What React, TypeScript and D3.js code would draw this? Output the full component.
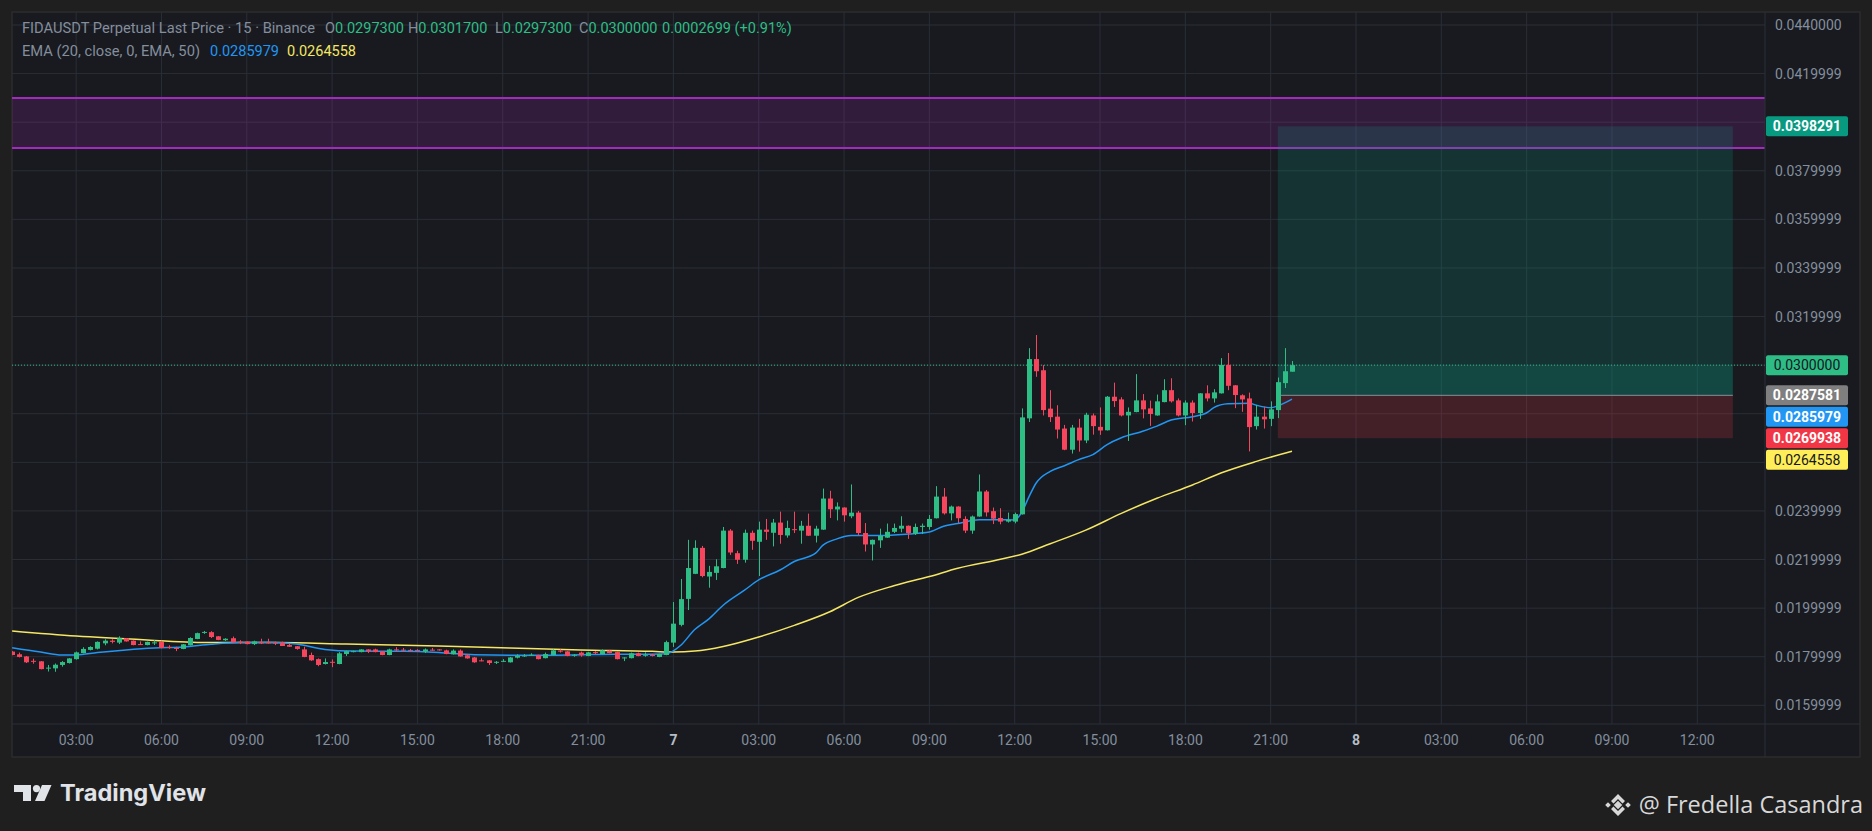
import React from "react";
import * as d3 from "d3";

// ---------- DATA ----------
const opens = [0.01821,0.01810,0.01801,0.01783,0.01781,0.01752,0.01752,0.01766,0.01774,0.01790,
0.01815,0.01828,0.01833,0.01855,0.01866,0.01858,0.01876,0.01866,0.01852,0.01848,
0.01857,0.01861,0.01840,0.01836,0.01832,0.01847,0.01873,0.01899,0.01901,0.01884,
0.01868,0.01876,0.01862,0.01862,0.01852,0.01859,0.01859,0.01858,0.01858,0.01848,
0.01843,0.01830,0.01807,0.01790,0.01770,0.01779,0.01770,0.01811,0.01819,0.01819,
0.01830,0.01830,0.01822,0.01807,0.01830,0.01829,0.01828,0.01828,0.01821,0.01829,
0.01830,0.01826,0.01810,0.01825,0.01806,0.01797,0.01785,0.01785,0.01777,0.01781,
0.01777,0.01796,0.01803,0.01805,0.01806,0.01794,0.01807,0.01825,0.01822,0.01806,
0.01817,0.01803,0.01819,0.01811,0.01825,0.01819,0.01794,0.01794,0.01814,0.01806,
0.01807,0.01799,0.01807,0.01858,0.01931,0.02038,0.02141,0.02248,0.02130,0.02145,
0.02165,0.02319,0.02226,0.02199,0.02310,0.02273,0.02323,0.02310,0.02352,0.02299,
0.02325,0.02319,0.02339,0.02298,0.02323,0.02451,0.02406,0.02414,0.02378,0.02393,
0.02309,0.02262,0.02279,0.02290,0.02314,0.02327,0.02339,0.02306,0.02334,0.02334,
0.02370,0.02459,0.02390,0.02418,0.02367,0.02319,0.02377,0.02480,0.02399,0.02371,
0.02356,0.02356,0.02386,0.02781,0.03025,0.02979,0.02821,0.02788,0.02739,0.02652,
0.02743,0.02690,0.02793,0.02746,0.02732,0.02870,0.02859,0.02793,0.02807,0.02855,
0.02822,0.02793,0.02848,0.02897,0.02855,0.02793,0.02846,0.02803,0.02884,0.02863,
0.02884,0.03001,0.02917,0.02876,0.02863,0.02749,0.02788,0.02779,0.02815,0.02926,
0.02973];

const highs = [0.01823,0.01817,0.01803,0.01792,0.01782,0.01766,0.01772,0.01782,0.01794,0.01821,
0.01839,0.01843,0.01863,0.01872,0.01872,0.01884,0.01877,0.01867,0.01863,0.01862,
0.01868,0.01866,0.01847,0.01841,0.01852,0.01880,0.01899,0.01906,0.01905,0.01885,
0.01876,0.01883,0.01868,0.01863,0.01866,0.01874,0.01874,0.01862,0.01862,0.01854,
0.01844,0.01841,0.01817,0.01793,0.01793,0.01789,0.01819,0.01825,0.01825,0.01831,
0.01831,0.01833,0.01823,0.01833,0.01839,0.01836,0.01832,0.01831,0.01834,0.01836,
0.01831,0.01829,0.01830,0.01830,0.01811,0.01799,0.01793,0.01786,0.01782,0.01790,
0.01799,0.01810,0.01811,0.01814,0.01808,0.01817,0.01830,0.01830,0.01823,0.01811,
0.01821,0.01820,0.01823,0.01830,0.01826,0.01821,0.01798,0.01817,0.01817,0.01818,
0.01812,0.01812,0.01866,0.02025,0.02120,0.02281,0.02279,0.02256,0.02174,0.02201,
0.02334,0.02325,0.02236,0.02323,0.02319,0.02356,0.02367,0.02367,0.02397,0.02360,
0.02397,0.02359,0.02389,0.02339,0.02492,0.02483,0.02435,0.02415,0.02509,0.02400,
0.02350,0.02282,0.02327,0.02348,0.02348,0.02378,0.02340,0.02348,0.02348,0.02383,
0.02502,0.02494,0.02422,0.02419,0.02378,0.02381,0.02550,0.02486,0.02414,0.02411,
0.02393,0.02393,0.02822,0.03070,0.03124,0.03000,0.02897,0.02835,0.02754,0.02754,
0.02779,0.02804,0.02801,0.02826,0.02873,0.02928,0.02868,0.02826,0.02963,0.02881,
0.02854,0.02879,0.02942,0.02946,0.02863,0.02855,0.02855,0.02885,0.02917,0.02901,
0.03029,0.03050,0.02918,0.02880,0.02887,0.02836,0.02829,0.02851,0.02949,0.03070,
0.03017];

const lows = [0.01806,0.01797,0.01774,0.01771,0.01748,0.01739,0.01738,0.01759,0.01772,0.01788,
0.01814,0.01826,0.01830,0.01847,0.01855,0.01852,0.01862,0.01847,0.01848,0.01847,
0.01848,0.01835,0.01832,0.01823,0.01831,0.01846,0.01872,0.01894,0.01877,0.01868,
0.01865,0.01858,0.01852,0.01851,0.01848,0.01852,0.01854,0.01848,0.01844,0.01840,
0.01829,0.01798,0.01783,0.01761,0.01768,0.01757,0.01769,0.01803,0.01818,0.01818,
0.01815,0.01818,0.01806,0.01806,0.01823,0.01822,0.01823,0.01824,0.01815,0.01825,
0.01825,0.01810,0.01809,0.01800,0.01792,0.01775,0.01781,0.01766,0.01770,0.01778,
0.01776,0.01793,0.01799,0.01803,0.01789,0.01793,0.01806,0.01817,0.01802,0.01800,
0.01800,0.01802,0.01811,0.01810,0.01814,0.01789,0.01782,0.01793,0.01802,0.01800,
0.01801,0.01798,0.01806,0.01840,0.01925,0.01992,0.02140,0.02127,0.02084,0.02116,
0.02164,0.02219,0.02182,0.02187,0.02240,0.02132,0.02281,0.02254,0.02265,0.02290,
0.02309,0.02265,0.02297,0.02270,0.02322,0.02371,0.02361,0.02356,0.02370,0.02299,
0.02233,0.02196,0.02248,0.02289,0.02309,0.02312,0.02285,0.02301,0.02305,0.02323,
0.02369,0.02385,0.02361,0.02350,0.02309,0.02306,0.02376,0.02377,0.02346,0.02345,
0.02352,0.02349,0.02385,0.02766,0.02952,0.02793,0.02766,0.02698,0.02650,0.02636,
0.02644,0.02679,0.02714,0.02713,0.02731,0.02828,0.02789,0.02688,0.02806,0.02781,
0.02750,0.02792,0.02847,0.02846,0.02789,0.02753,0.02768,0.02779,0.02851,0.02846,
0.02883,0.02897,0.02823,0.02808,0.02645,0.02735,0.02739,0.02749,0.02782,0.02906,
0.02973];

const closes = [0.01807,0.01799,0.01777,0.01781,0.01749,0.01755,0.01767,0.01778,0.01793,0.01818,
0.01832,0.01840,0.01861,0.01866,0.01861,0.01876,0.01863,0.01848,0.01850,0.01861,
0.01859,0.01836,0.01836,0.01833,0.01851,0.01877,0.01897,0.01902,0.01881,0.01869,
0.01874,0.01859,0.01858,0.01852,0.01863,0.01857,0.01855,0.01854,0.01844,0.01841,
0.01832,0.01799,0.01785,0.01766,0.01778,0.01777,0.01814,0.01823,0.01823,0.01830,
0.01822,0.01819,0.01807,0.01830,0.01826,0.01826,0.01826,0.01826,0.01830,0.01827,
0.01826,0.01811,0.01825,0.01801,0.01793,0.01777,0.01782,0.01774,0.01779,0.01783,
0.01797,0.01804,0.01805,0.01808,0.01790,0.01811,0.01826,0.01822,0.01803,0.01808,
0.01806,0.01818,0.01817,0.01826,0.01815,0.01790,0.01797,0.01814,0.01803,0.01808,
0.01805,0.01811,0.01860,0.01936,0.02037,0.02165,0.02248,0.02132,0.02149,0.02172,
0.02319,0.02229,0.02199,0.02310,0.02277,0.02323,0.02314,0.02352,0.02301,0.02330,
0.02321,0.02339,0.02298,0.02327,0.02451,0.02407,0.02418,0.02382,0.02393,0.02309,
0.02262,0.02281,0.02297,0.02314,0.02330,0.02339,0.02309,0.02334,0.02339,0.02367,
0.02459,0.02390,0.02418,0.02370,0.02319,0.02377,0.02480,0.02394,0.02368,0.02356,
0.02363,0.02387,0.02785,0.03025,0.02975,0.02815,0.02786,0.02735,0.02652,0.02743,
0.02690,0.02796,0.02749,0.02731,0.02870,0.02852,0.02793,0.02808,0.02855,0.02818,
0.02799,0.02851,0.02897,0.02851,0.02793,0.02846,0.02803,0.02884,0.02863,0.02888,
0.03001,0.02915,0.02877,0.02859,0.02745,0.02788,0.02777,0.02818,0.02930,0.02975,
0.03000];

// EMA readings (bar index, value)
const ema20Idx = [0,4,7,9,12,16,20,24,28,32,36,40,44,48,55,60,65,70,75,80,85,90,92,94,96,98,100,103,105,108,110,113,114,116,118,122,126,129,131,133,136,139,141,142,143,144,146,148,150,152,154,156,159,161,163,166,168,169,171,174,175,177,178,180];
const ema20Val = [0.01837,0.01819,0.01807,0.01807,0.01817,0.01828,0.01836,0.0184,0.01851,0.01858,0.01859,0.01852,0.0183,0.01823,0.01822,0.01817,0.01808,0.01806,0.01806,0.01808,0.0181,0.0181,0.01812,0.01846,0.01912,0.01956,0.02012,0.02074,0.02116,0.02157,0.02192,0.02226,0.02258,0.02285,0.02299,0.02299,0.02305,0.02313,0.02337,0.02348,0.02364,0.02364,0.02363,0.02395,0.02458,0.02514,0.02563,0.02586,0.02611,0.02632,0.02673,0.02701,0.02728,0.02749,0.02774,0.02788,0.02804,0.02825,0.02841,0.02843,0.02835,0.02825,0.02832,0.0285979];
const ema50Idx = [0,9,19,28,37,47,60,70,80,90,93,96,100,105,110,115,119,124,129,133,139,142,146,151,156,161,166,170,175,180];
const ema50Val = [0.01906,0.01885,0.01869,0.01858,0.01858,0.01852,0.01844,0.01836,0.01828,0.01822,0.01819,0.01823,0.01842,0.01881,0.01929,0.01985,0.02044,0.02092,0.0213,0.02164,0.02201,0.02222,0.02265,0.02321,0.0239,0.02452,0.02507,0.02556,0.02604,0.0264558];

// Zone / position tool
const zoneTop = 0.04100;
const zoneBottom = 0.03894;
const targetPrice = 0.0398291;
const entryPrice = 0.0287581;
const stopPrice = 0.0269938;
const lastPrice = 0.03;
const positionStartIdx = 178;
const positionEndIdx = 242;

// Axes
const priceTickValues = [0.044,0.042,0.040,0.038,0.036,0.034,0.032,0.030,0.028,0.026,0.024,0.022,0.020,0.018,0.016];
const priceTickLabels = ["0.0440000","0.0419999","0.0399999","0.0379999","0.0359999","0.0339999","0.0319999","0.0299999","0.0279999","0.0259999","0.0239999","0.0219999","0.0199999","0.0179999","0.0159999"];
const timeTickIdx = [9,21,33,45,57,69,81,93,105,117,129,141,153,165,177,189,201,213,225,237];
const timeTickLabels = ["03:00","06:00","09:00","12:00","15:00","18:00","21:00","7","03:00","06:00","09:00","12:00","15:00","18:00","21:00","8","03:00","06:00","09:00","12:00"];

// Header
const headerTitle = "FIDAUSDT Perpetual Last Price · 15 · Binance";
const headerOHLC = ["0.0297300","0.0301700","0.0297300","0.0300000"];
const headerChange = "0.0002699 (+0.91%)";
const emaTitle = "EMA (20, close, 0, EMA, 50)";
const emaValues = ["0.0285979","0.0264558"];

// ---------- STYLE ----------
const W = 1872, H = 831;
const PL = 12, PT = 12, PR = 1765, PB = 724, OR = 1860, OB = 757;
const UP = "#2ebd85", DOWN = "#f6465d";
const GRID = "#2a2e36";
const TXT = "#848e9c";
const FONT = "Roboto, 'Liberation Sans', sans-serif";

export default function App() {
  const x = d3.scaleLinear().domain([0, 189]).range([12.13, 1356]);
  const y = d3.scaleLinear().domain([0.016, 0.044]).range([705.3, 25]);
  const n = opens.length;
  const bw = 5;

  const lineGen = d3.line<[number, number]>()
    .x(d => x(d[0])).y(d => y(d[1])).curve(d3.curveMonotoneX);
  const ema20 = lineGen(ema20Idx.map((d, i) => [d, ema20Val[i]] as [number, number])) || "";
  const ema50 = lineGen(ema50Idx.map((d, i) => [d, ema50Val[i]] as [number, number])) || "";

  const lbls = [
    { v: targetPrice, bg: "#089981", fg: "#ffffff", bold: true },
    { v: lastPrice, bg: "#2ebd85", fg: "#131722", bold: false },
    { v: entryPrice, bg: "#7f7f7f", fg: "#ffffff", bold: true },
    { v: ema20Val[ema20Val.length - 1], bg: "#2196f3", fg: "#ffffff", bold: true },
    { v: stopPrice, bg: "#f23645", fg: "#ffffff", bold: true },
    { v: ema50Val[ema50Val.length - 1], bg: "#ffee58", fg: "#131722", bold: false },
  ];
  const LH = 20, GAP = 1.5;
  const placed = lbls.map(l => ({ ...l, cy: y(l.v) })).sort((a, b) => a.cy - b.cy);
  for (let i = 1; i < placed.length; i++) {
    const minY = placed[i - 1].cy + LH + GAP;
    if (placed[i].cy < minY) placed[i].cy = minY;
  }

  const xs = x(positionStartIdx), xe = x(positionEndIdx);

  return (
    <div style={{ position: "fixed", left: 0, top: 0, width: W, height: H }}>
      <svg width={W} height={H} style={{ display: "block" }} fontFamily={FONT}>
        <defs>
          <clipPath id="plot"><rect x={PL} y={PT} width={PR - PL} height={PB - PT} /></clipPath>
        </defs>
        <rect x={0} y={0} width={W} height={H} fill="#1f1f1f" />
        <rect x={PL} y={PT} width={OR - PL} height={OB - PT} fill="#181a20" stroke="#2c2c2c" strokeWidth={1.5} />

        <g>
          {timeTickIdx.map((t, i) => (
            <line key={"vg" + i} x1={x(t)} x2={x(t)} y1={PT} y2={PB} stroke={GRID} strokeWidth={1} />
          ))}
          {priceTickValues.map((v, i) => (
            <line key={"hg" + i} x1={PL} x2={PR} y1={y(v)} y2={y(v)} stroke={GRID} strokeWidth={1} />
          ))}
        </g>

        <g clipPath="url(#plot)">
          <rect x={PL} y={y(zoneTop)} width={PR - PL} height={y(zoneBottom) - y(zoneTop)} fill="rgba(156,39,176,0.2)" />
          <line x1={PL} x2={PR} y1={y(zoneTop)} y2={y(zoneTop)} stroke="#a12bbd" strokeWidth={2} />
          <line x1={PL} x2={PR} y1={y(zoneBottom)} y2={y(zoneBottom)} stroke="#a12bbd" strokeWidth={2} />

          <rect x={xs} y={y(targetPrice)} width={xe - xs} height={y(entryPrice) - y(targetPrice)} fill="rgba(8,153,129,0.2)" />
          <rect x={xs} y={y(lastPrice)} width={xe - xs} height={y(entryPrice) - y(lastPrice)} fill="rgba(8,153,129,0.2)" />
          <rect x={xs} y={y(entryPrice)} width={xe - xs} height={y(stopPrice) - y(entryPrice)} fill="rgba(242,54,69,0.2)" />
          <line x1={xs} x2={xe} y1={y(entryPrice)} y2={y(entryPrice)} stroke="#8a8d96" strokeWidth={1} />

          <line x1={PL} x2={PR} y1={y(lastPrice)} y2={y(lastPrice)} stroke={UP} strokeWidth={1} strokeDasharray="1 2" />

          <path d={ema50} fill="none" stroke="#f5e663" strokeWidth={1.5} />
          <path d={ema20} fill="none" stroke="#2196f3" strokeWidth={1.5} />

          {d3.range(n).map(i => {
            const o = opens[i], h = highs[i], l = lows[i], c = closes[i];
            const col = c >= o ? UP : DOWN;
            const cx = Math.round(x(i)) + 0.5;
            const top = y(Math.max(o, c)), bot = y(Math.min(o, c));
            return (
              <g key={"c" + i}>
                <line x1={cx} x2={cx} y1={y(h)} y2={y(l)} stroke={col} strokeWidth={1} />
                <rect x={cx - bw / 2} y={top} width={bw} height={Math.max(1, bot - top)} fill={col} />
              </g>
            );
          })}
        </g>

        <line x1={PR} x2={PR} y1={PT} y2={OB} stroke={GRID} strokeWidth={1} />
        <line x1={PL} x2={OR} y1={PB} y2={PB} stroke={GRID} strokeWidth={1} />

        {priceTickValues.map((v, i) => {
          const yy = y(v);
          const hidden = placed.some(p => Math.abs(p.cy - yy) < 16);
          if (hidden) return null;
          return (
            <text key={"pt" + i} x={1775} y={yy + 5} fontSize={14} fill={TXT}>{priceTickLabels[i]}</text>
          );
        })}

        {placed.map((p, i) => (
          <g key={"pl" + i}>
            <rect x={1766} y={p.cy - LH / 2} width={82} height={LH} rx={2} fill={p.bg} />
            <text x={1807} y={p.cy + 5} fontSize={14} fill={p.fg} textAnchor="middle" fontWeight={p.bold ? 700 : 400}>
              {p.v.toFixed(7)}
            </text>
          </g>
        ))}

        {timeTickIdx.map((t, i) => {
          const isDay = !timeTickLabels[i].includes(":");
          return (
            <text key={"tl" + i} x={x(t)} y={745} fontSize={14} textAnchor="middle"
              fill={isDay ? "#b7bdc6" : TXT} fontWeight={isDay ? 700 : 400}>{timeTickLabels[i]}</text>
          );
        })}

        {/* header */}
        <text x={22} y={33} fontSize={14.5} fill={TXT} textLength={293} lengthAdjust="spacingAndGlyphs">{headerTitle}</text>
        {["O", "H", "L", "C"].map((k, i) => {
          const xx = [325, 408, 495, 579][i];
          return (
            <text key={"h" + k} x={xx} y={33} fontSize={14.5} fill={TXT}>
              {k}<tspan fill={UP}>{headerOHLC[i]}</tspan>
            </text>
          );
        })}
        <text x={662} y={33} fontSize={14.5} fill={UP}>{headerChange}</text>
        <text x={22} y={56} fontSize={14.5} fill={TXT} textLength={178} lengthAdjust="spacingAndGlyphs">{emaTitle}</text>
        <text x={210} y={56} fontSize={14.5} fill="#2196f3">{emaValues[0]}</text>
        <text x={287} y={56} fontSize={14.5} fill="#f5e663">{emaValues[1]}</text>

        {/* TradingView watermark */}
        <g fill="#e0e3e8">
          <path d="M14,785 H31 V801 H23 V792 H14 Z" />
          <circle cx={36.5} cy={788.6} r={3.6} />
          <path d="M42,785 H51.5 L44.5,801 H35 Z" />
        </g>
        <text x={60} y={801} fontSize={23} fontWeight={700} fill="#e0e3e8" fontFamily="Inter, 'Open Sans', sans-serif" textLength={146} lengthAdjust="spacingAndGlyphs">TradingView</text>

        {/* Binance icon + author */}
        <g fill="#d8d8d8" transform="translate(1618,805)">
          <rect x={-3} y={-3} width={6} height={6} transform="rotate(45)" />
          <rect x={-2} y={-2} width={4} height={4} transform="translate(-10,0) rotate(45)" />
          <rect x={-2} y={-2} width={4} height={4} transform="translate(10,0) rotate(45)" />
          <path d="M-7,-4 L0,-11 L7,-4 L4.5,-1.5 L0,-6 L-4.5,-1.5 Z" />
          <path d="M-7,4 L0,11 L7,4 L4.5,1.5 L0,6 L-4.5,1.5 Z" />
        </g>
        <text x={1863} y={813} fontSize={23.5} textAnchor="end" fill="#d8d8d8" fontFamily="'Open Sans', sans-serif">@ Fredella Casandra</text>
      </svg>
    </div>
  );
}
